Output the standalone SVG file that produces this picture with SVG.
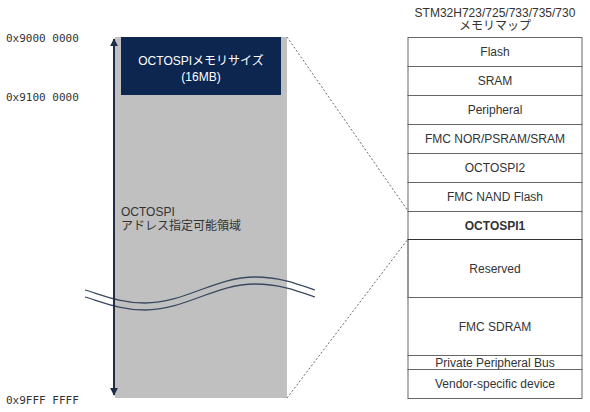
<svg xmlns="http://www.w3.org/2000/svg" width="590" height="412" viewBox="0 0 590 412">
<style>
.addr{font-family:"DejaVu Sans Mono","Liberation Mono",monospace;font-size:11px;fill:#333}
.t{font-family:"Liberation Sans","Noto Sans CJK JP",sans-serif;font-size:12px;fill:#333}
.c{text-anchor:middle}
.w{fill:#fff}
.row{fill:#fff;stroke:#666;stroke-width:1}
.dash{stroke:#444;stroke-width:0.8;stroke-dasharray:2,2;fill:none}
.wave{stroke:#3a4860;stroke-width:1.3;fill:none}
</style>
<defs>
<marker id="ah" viewBox="0 0 10 10" refX="9" refY="5" markerWidth="4" markerHeight="4" orient="auto-start-reverse">
<path d="M0,0 L10,5 L0,10 z" fill="#1f2d4a"/>
</marker>
</defs>
<rect width="590" height="412" fill="#fff"/>
<g id="address-labels">
<text class="addr" x="6" y="42">0x9000 0000</text>
<text class="addr" x="6" y="101">0x9100 0000</text>
<text class="addr" x="6" y="404">0x9FFF FFFF</text>
</g>
<g id="octospi-region">
<rect x="115" y="37" width="172" height="361" fill="#c0c0c0"/>
<text class="t" x="121" y="216">OCTOSPI</text>
<text class="t" x="121" y="230">アドレス指定可能領域</text>
</g>
<g id="octospi-size">
<rect x="121" y="37" width="160" height="58" fill="#0d2650"/>
<text class="t c w" x="201" y="65">OCTOSPIメモリサイズ</text>
<text class="t c w" x="201" y="81">(16MB)</text>
</g>
<g id="break-mark">
<path class="wave" d="M85,290 C105,296 122,303 145,303 C185,303 215,277 255,277 C280,277 298,284 315,290"/>
<path class="wave" d="M85,297 C105,303 122,310 145,310 C185,310 215,284 255,284 C280,284 298,291 315,297"/>
</g>
<g id="memory-map">
<text class="t c" x="495" y="17">STM32H723/725/733/735/730</text>
<text class="t c" x="495" y="30">メモリマップ</text>
<g id="row-flash"><rect class="row" x="408" y="37.5" width="174" height="29"/><text class="t c" x="495" y="56">Flash</text></g>
<g id="row-sram"><rect class="row" x="408" y="66.5" width="174" height="29"/><text class="t c" x="495" y="85">SRAM</text></g>
<g id="row-peripheral"><rect class="row" x="408" y="95.5" width="174" height="29"/><text class="t c" x="495" y="114">Peripheral</text></g>
<g id="row-fmc-nor"><rect class="row" x="408" y="124.5" width="174" height="29"/><text class="t c" x="495" y="143">FMC NOR/PSRAM/SRAM</text></g>
<g id="row-octospi2"><rect class="row" x="408" y="153.5" width="174" height="29"/><text class="t c" x="495" y="172">OCTOSPI2</text></g>
<g id="row-fmc-nand"><rect class="row" x="408" y="182.5" width="174" height="29"/><text class="t c" x="495" y="201">FMC NAND Flash</text></g>
<g id="row-octospi1"><rect class="row" x="408" y="211.5" width="174" height="28"/><text class="t c" x="495" y="230" font-weight="bold">OCTOSPI1</text></g>
<g id="row-reserved"><rect class="row" x="408" y="239.5" width="174" height="58" style="stroke:#333"/><text class="t c" x="495" y="273">Reserved</text></g>
<g id="row-fmc-sdram"><rect class="row" x="408" y="297.5" width="174" height="58"/><text class="t c" x="495" y="331">FMC SDRAM</text></g>
<g id="row-ppb"><rect class="row" x="408" y="355.5" width="174" height="14"/><text class="t c" x="495" y="367">Private Peripheral Bus</text></g>
<g id="row-vendor"><rect class="row" x="408" y="369.5" width="174" height="29"/><text class="t c" x="495" y="388">Vendor-specific device</text></g>
</g>
<g id="connectors">
<line x1="114" y1="395" x2="114" y2="39" stroke="#1f2d4a" stroke-width="2" marker-start="url(#ah)" marker-end="url(#ah)"/>
<line class="dash" x1="287" y1="37" x2="408" y2="211"/>
<line class="dash" x1="287" y1="398" x2="408" y2="239"/>
</g>
</svg>
